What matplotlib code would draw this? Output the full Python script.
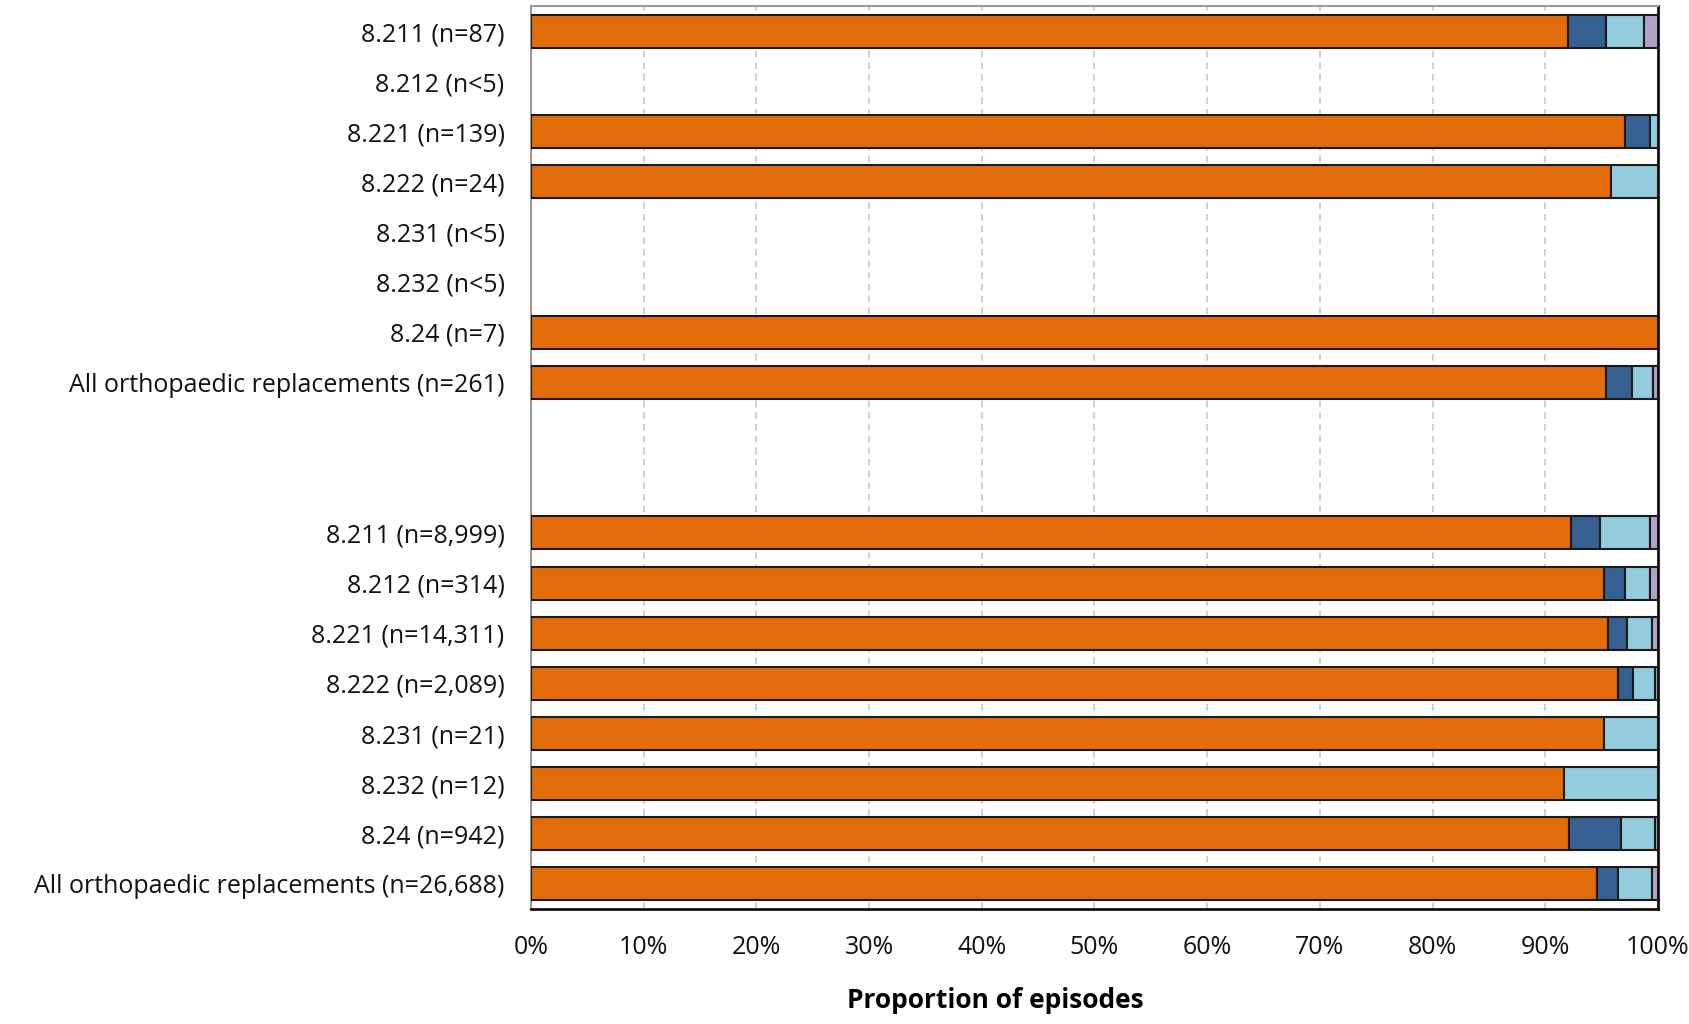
import matplotlib
matplotlib.use("Agg")
import matplotlib.pyplot as plt
from matplotlib.ticker import PercentFormatter

plt.rcParams['font.family'] = ['Open Sans', 'DejaVu Sans']

labels = [
    "8.211 (n=87)", "8.212 (n<5)", "8.221 (n=139)", "8.222 (n=24)",
    "8.231 (n<5)", "8.232 (n<5)", "8.24 (n=7)", "All orthopaedic replacements (n=261)",
    "8.211 (n=8,999)", "8.212 (n=314)", "8.221 (n=14,311)", "8.222 (n=2,089)",
    "8.231 (n=21)", "8.232 (n=12)", "8.24 (n=942)", "All orthopaedic replacements (n=26,688)",
]
positions = [0, 1, 2, 3, 4, 5, 6, 7, 10, 11, 12, 13, 14, 15, 16, 17]

# Stacked category shares (percent); None = suppressed (n<5)
seg1 = [92.0, None, 97.1, 95.8, None, None, 100.0, 95.4, 92.3, 95.2, 95.6, 96.5, 95.2, 91.7, 92.1, 94.6]
seg2 = [3.4, None, 2.2, 0.0, None, None, 0.0, 2.3, 2.6, 1.9, 1.7, 1.3, 0.0, 0.0, 4.6, 1.9]
seg3 = [3.4, None, 0.7, 4.2, None, None, 0.0, 1.9, 4.4, 2.2, 2.2, 1.9, 4.8, 8.3, 3.0, 3.0]
seg4 = [1.2, None, 0.0, 0.0, None, None, 0.0, 0.4, 0.7, 0.7, 0.5, 0.3, 0.0, 0.0, 0.3, 0.5]

colors = ["#E36C0A", "#366092", "#93CDDD", "#B3A2C7"]

fig = plt.figure(figsize=(16.9, 10.24), dpi=100)
ax = fig.add_axes([0.3142, 0.1123, 0.6668, 0.8814])

for i, pos in enumerate(positions):
    left = 0.0
    for series, col in zip((seg1, seg2, seg3, seg4), colors):
        v = series[i]
        if v is None or v <= 0:
            continue
        ax.barh(pos, v, left=left, height=0.66, color=col,
                edgecolor="#1a1a1a", linewidth=1.5, zorder=3)
        left += v

ax.set_xlim(0, 100)
ax.set_ylim(17.5, -0.5)
ax.set_yticks(positions)
ax.set_yticklabels(labels)
ax.set_xticks(range(0, 101, 10))
ax.xaxis.set_major_formatter(PercentFormatter(decimals=0))
ax.tick_params(axis='y', length=0, pad=19, labelsize=18, colors="#111111")
ax.tick_params(axis='x', length=0, pad=19, labelsize=18, colors="#111111")
ax.grid(axis='x', linestyle=(0, (4, 3)), color="#c8c8c8", linewidth=1.2, zorder=0)

for side in ("top", "left"):
    ax.spines[side].set_color("#9a9a9a")
    ax.spines[side].set_linewidth(1.5)
for side in ("bottom", "right"):
    ax.spines[side].set_color("#111111")
    ax.spines[side].set_linewidth(2)

ax.set_xlabel("Proportion of episodes", fontsize=19, fontweight="bold")
ax.xaxis.set_label_coords(0.412, -0.086)

fig.savefig("out.png", dpi=100)
